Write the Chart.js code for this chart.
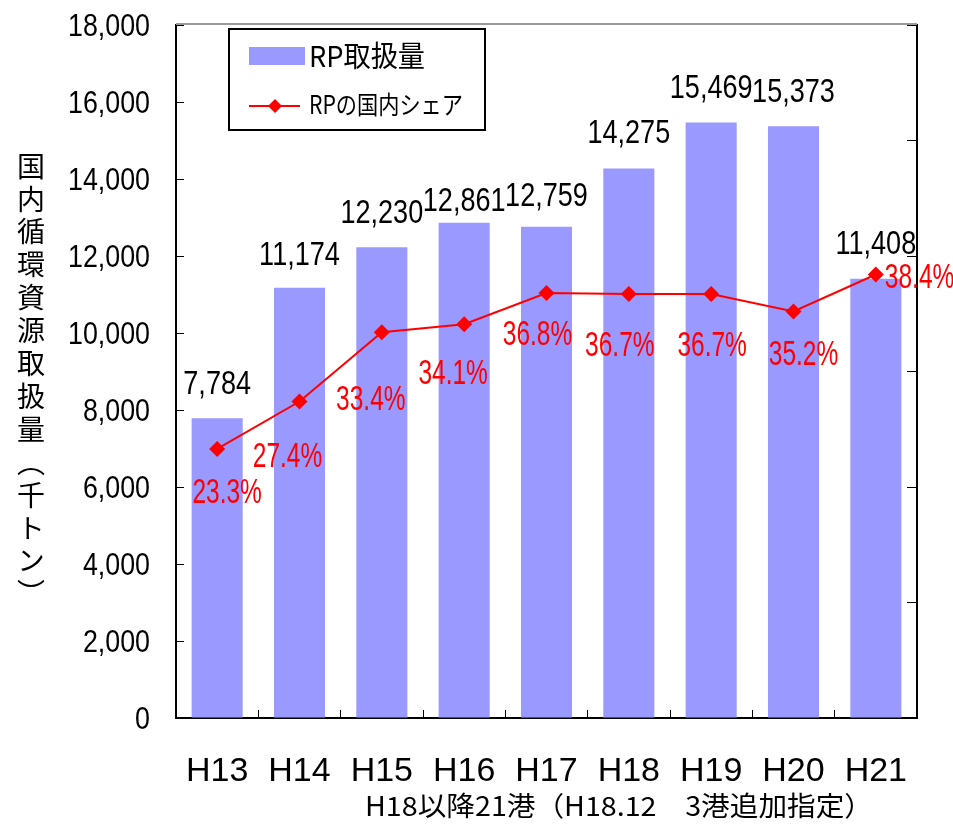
<!DOCTYPE html>
<html>
<head>
<meta charset="utf-8">
<script src="https://cdn.jsdelivr.net/npm/chart.js@4.4.1/dist/chart.umd.min.js"></script>
<style>
  body { margin: 0; background: #fff; }
  #wrap { position: relative; width: 953px; height: 828px; }
  #ytitle {
    position: absolute; left: 17px; top: 152px;
    writing-mode: vertical-rl;
    font: 28px "Noto Sans CJK JP"; letter-spacing: 4.9px; line-height: 1; color: #000;
  }
</style>
</head>
<body>
<div id="wrap">
  <canvas id="rpChart" width="953" height="828"></canvas>
  <div id="ytitle">国内循環資源取扱量（千トン）</div>
</div>
<script>
// data
const years = ["H13", "H14", "H15", "H16", "H17", "H18", "H19", "H20", "H21"];
const volumes = [7784, 11174, 12230, 12861, 12759, 14275, 15469, 15373, 11408];
const shares = [23.3, 27.4, 33.4, 34.1, 36.8, 36.7, 36.7, 35.2, 38.4];
const volumeTicks = [0, 2000, 4000, 6000, 8000, 10000, 12000, 14000, 16000, 18000];
const shareTicks = [0, 10, 20, 30, 40, 50, 60];

// label placement (px, relative to the mark)
const volNudgeY = [-36, -35, -36, -24, -33, -37, -36, -36, -37];
const shareNudge = [[10, 42], [-12, 53], [-11, 65], [-11, 47], [-9, 40], [-9, 49], [1, 49], [10, 41], [9, 1]];

const FONT = '"Liberation Sans", Arial, sans-serif';
const JP = '"Noto Sans CJK JP", sans-serif';

// draw text centred on y (cap height), squeezed horizontally
function squeezed(ctx, text, x, y, size, family, color, align, sx) {
  ctx.save();
  ctx.font = size + "px " + family;
  ctx.fillStyle = color;
  ctx.textAlign = align;
  ctx.textBaseline = "alphabetic";
  ctx.translate(x, y + size * 0.358);
  ctx.scale(sx, 1);
  ctx.fillText(text, 0, 0);
  ctx.restore();
}
function fitted(ctx, text, x, y, size, family, color, width) {
  ctx.save();
  ctx.font = size + "px " + family;
  const sx = width / ctx.measureText(text).width;
  ctx.restore();
  squeezed(ctx, text, x, y, size, family, color, "left", sx);
}

const extras = {
  id: "extras",
  afterDatasetsDraw(chart) {
    const ctx = chart.ctx;
    const area = chart.chartArea;
    // grey top frame
    ctx.save();
    ctx.strokeStyle = "#999";
    ctx.lineWidth = 2;
    ctx.beginPath();
    ctx.moveTo(area.left, area.top - 1);
    ctx.lineTo(area.right, area.top - 1);
    ctx.stroke();
    ctx.restore();

    // y tick labels
    const ys = chart.scales.y;
    ys.ticks.forEach(t => {
      squeezed(ctx, t.value.toLocaleString("en-US"), 150, ys.getPixelForValue(t.value), 31, FONT, "#000", "right", 0.865);
    });

    // bar value labels
    const bars = chart.getDatasetMeta(1).data;
    bars.forEach((b, i) => {
      squeezed(ctx, volumes[i].toLocaleString("en-US"), b.x, b.y + volNudgeY[i], 33, FONT, "#000", "center", 0.82);
    });

    // share labels
    const pts = chart.getDatasetMeta(0).data;
    pts.forEach((p, i) => {
      const last = i === pts.length - 1;
      squeezed(ctx, shares[i].toFixed(1) + "%", p.x + shareNudge[i][0], p.y + shareNudge[i][1], 35, FONT, "#ff0000", last ? "left" : "center", 0.7);
    });

    // legend
    ctx.save();
    ctx.fillStyle = "#fff";
    ctx.fillRect(229, 29, 256, 101);
    ctx.strokeStyle = "#000";
    ctx.lineWidth = 2;
    ctx.strokeRect(229, 29, 256, 101);
    ctx.fillStyle = "#9999ff";
    ctx.fillRect(249, 47, 56, 18);
    ctx.strokeStyle = "#ff0000";
    ctx.beginPath();
    ctx.moveTo(249, 106);
    ctx.lineTo(300, 106);
    ctx.stroke();
    ctx.fillStyle = "#ff0000";
    ctx.beginPath();
    ctx.moveTo(275, 99); ctx.lineTo(282, 106); ctx.lineTo(275, 113); ctx.lineTo(268, 106);
    ctx.closePath();
    ctx.fill();
    ctx.restore();
    fitted(ctx, "RP取扱量", 309, 57, 29, JP, "#000", 116);
    fitted(ctx, "RPの国内シェア", 309, 105, 25, JP, "#000", 154);

    // note under the axis
    fitted(ctx, "H18以降21港（H18.12　3港追加指定）", 365, 806, 27, JP, "#000", 508);
  }
};

new Chart(document.getElementById("rpChart"), {
  data: {
    labels: years,
    datasets: [
      {
        type: "line",
        label: "RPの国内シェア",
        data: shares,
        yAxisID: "y2",
        borderColor: "#ff0000",
        backgroundColor: "#ff0000",
        borderWidth: 2,
        pointStyle: "rectRot",
        pointRadius: 8,
        pointBorderWidth: 0,
        tension: 0,
        order: 0,
      },
      {
        type: "bar",
        label: "RP取扱量",
        data: volumes,
        yAxisID: "y",
        backgroundColor: "#9999ff",
        categoryPercentage: 1,
        barPercentage: 0.62,
        order: 1,
      },
    ],
  },
  options: {
    responsive: false,
    animation: false,
    devicePixelRatio: 1,
    layout: { padding: { top: 25, left: 0, right: 0, bottom: 0 } },
    plugins: { legend: { display: false }, tooltip: { enabled: false } },
    scales: {
      x: {
        offset: true,
        grid: { offset: true, drawOnChartArea: false, tickLength: -8, color: "#000", lineWidth: 1 },
        border: { color: "#000", width: 2 },
        ticks: { color: "#000", font: { family: FONT, size: 34 }, padding: 41, maxRotation: 0 },
        afterFit(s) { s.height = 110; },
      },
      y: {
        position: "left",
        min: 0,
        max: 18000,
        afterBuildTicks(s) { s.ticks = volumeTicks.map(v => ({ value: v })); },
        grid: { drawOnChartArea: false, tickLength: -8, color: "#000", lineWidth: 1 },
        border: { color: "#000", width: 2 },
        ticks: { display: false },
        afterFit(s) { s.width = 176; },
      },
      y2: {
        position: "right",
        min: 0,
        max: 60,
        afterBuildTicks(s) { s.ticks = shareTicks.map(v => ({ value: v })); },
        grid: { drawOnChartArea: false, tickLength: -10, color: "#000", lineWidth: 1 },
        border: { color: "#000", width: 2 },
        ticks: { display: false },
        afterFit(s) { s.width = 36; },
      },
    },
  },
  plugins: [extras],
});
</script>
</body>
</html>
